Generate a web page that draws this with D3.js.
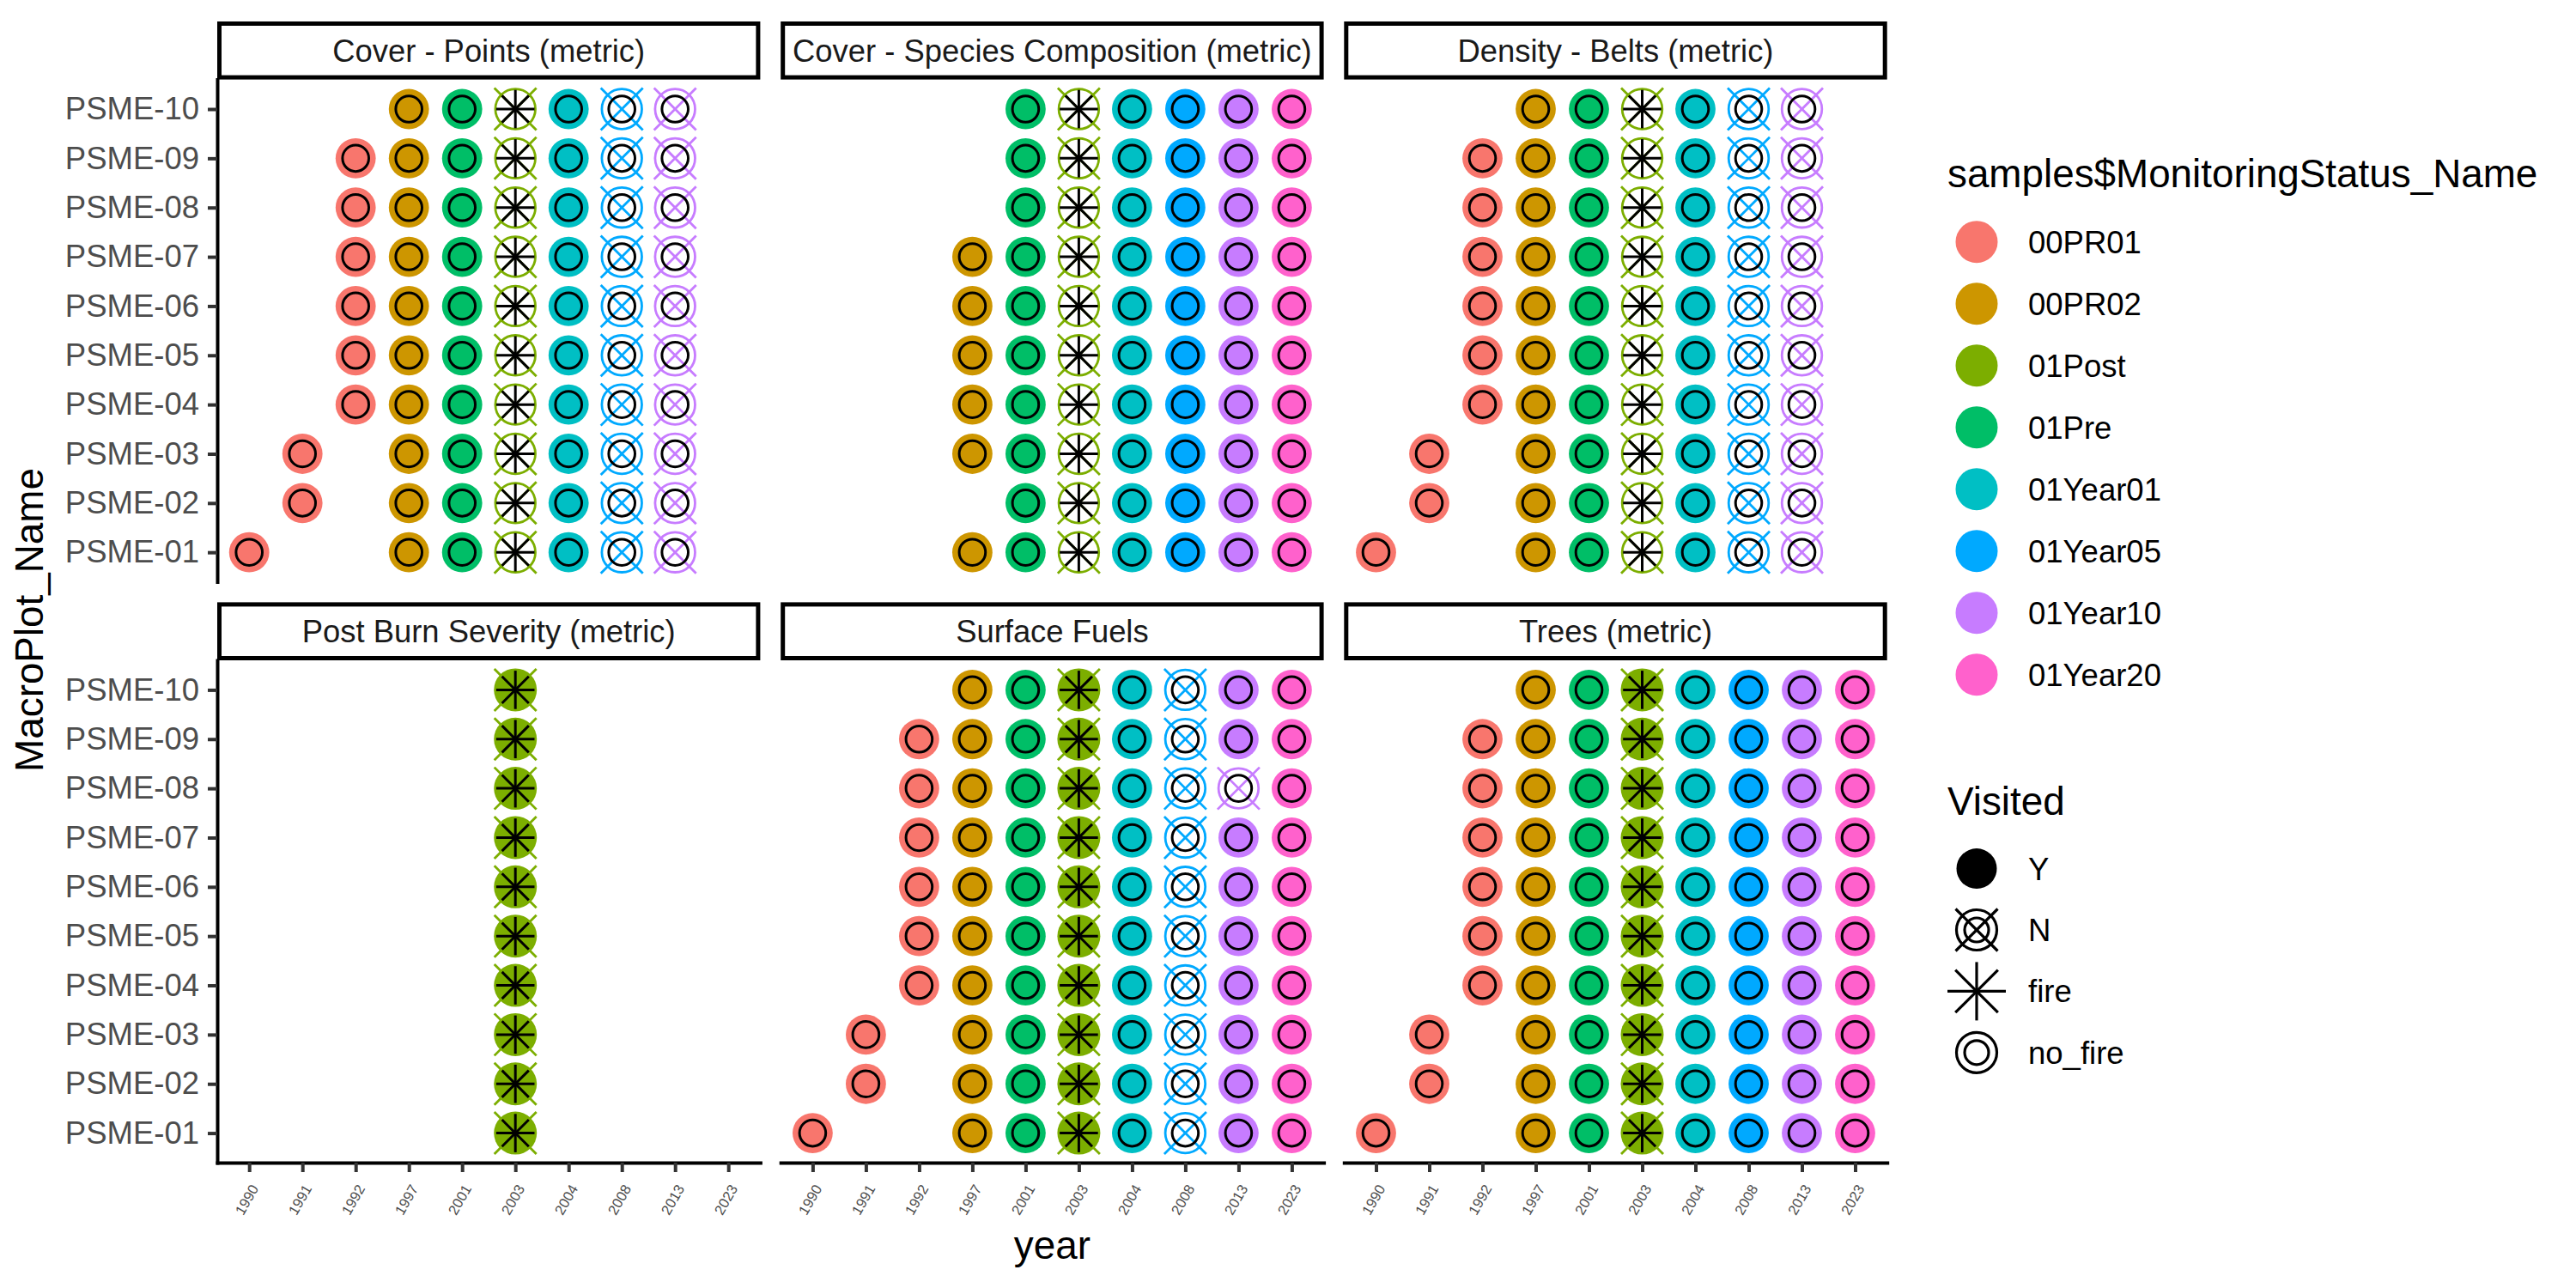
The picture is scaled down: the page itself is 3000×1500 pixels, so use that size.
<!DOCTYPE html>
<html>
<head>
<meta charset="utf-8">
<script src="https://cdn.jsdelivr.net/npm/d3@7"></script>
<style>
  html, body { margin: 0; padding: 0; background: #ffffff; }
  text { font-family: "Liberation Sans", Arial, Helvetica, sans-serif; }
</style>
</head>
<body>
<svg id="chart" width="3000" height="1500"></svg>
<script>
// ---------------- DATA ----------------
const panelNames = [
  "Cover - Points (metric)",
  "Cover - Species Composition (metric)",
  "Density - Belts (metric)",
  "Post Burn Severity (metric)",
  "Surface Fuels",
  "Trees (metric)"
];
const years = ["1990","1991","1992","1997","2001","2003","2004","2008","2013","2023"];
const plots = ["PSME-01","PSME-02","PSME-03","PSME-04","PSME-05","PSME-06","PSME-07","PSME-08","PSME-09","PSME-10"];
const statusNames = ["00PR01","00PR02","01Post","01Pre","01Year01","01Year05","01Year10","01Year20"];
const statusColors = ["#F8766D","#CD9600","#7CAE00","#00BE67","#00BFC4","#00A9FF","#C77CFF","#FF61CC"];
// monitoring status of each year column
const yearStatus = ["00PR01","00PR01","00PR01","00PR02","01Pre","01Post","01Year01","01Year05","01Year10","01Year20"];
// fire flag of each year column
const yearFire = ["no_fire","no_fire","no_fire","no_fire","no_fire","fire","no_fire","no_fire","no_fire","no_fire"];
const visitedLabels = ["Y","N","fire","no_fire"];

// Visit codes per plot (PSME-01 ... PSME-10), one character per year column:
// "-" no sample, "Y" visited, "N" not visited, "B" both Y and N records
const coverPoints = [
  "Y--YYNYNN-","-Y-YYNYNN-","-Y-YYNYNN-","--YYYNYNN-","--YYYNYNN-",
  "--YYYNYNN-","--YYYNYNN-","--YYYNYNN-","--YYYNYNN-","---YYNYNN-"
];
const coverSpecies = [
  "---YYNYYYY","----YNYYYY","---YYNYYYY","---YYNYYYY","---YYNYYYY",
  "---YYNYYYY","---YYNYYYY","----YNYYYY","----YNYYYY","----YNYYYY"
];
const densityBelts = [
  "Y--YYNYNN-","-Y-YYNYNN-","-Y-YYNYNN-","--YYYNYNN-","--YYYNYNN-",
  "--YYYNYNN-","--YYYNYNN-","--YYYNYNN-","--YYYNYNN-","---YYNYNN-"
];
const postBurn = [
  "-----B----","-----B----","-----B----","-----B----","-----B----",
  "-----B----","-----B----","-----B----","-----B----","-----B----"
];
const surfaceFuels = [
  "Y--YYBYNYY","-Y-YYBYNYY","-Y-YYBYNYY","--YYYBYNYY","--YYYBYNYY",
  "--YYYBYNYY","--YYYBYNYY","--YYYBYNNY","--YYYBYNYY","---YYBYNYY"
];
const trees = [
  "Y--YYBYYYY","-Y-YYBYYYY","-Y-YYBYYYY","--YYYBYYYY","--YYYBYYYY",
  "--YYYBYYYY","--YYYBYYYY","--YYYBYYYY","--YYYBYYYY","---YYBYYYY"
];
const panelCodes = [coverPoints, coverSpecies, densityBelts, postBurn, surfaceFuels, trees];

// ---------------- LAYOUT ----------------
const svg = d3.select("#chart");
const colLeft = [253, 909.2, 1565.3];
const panelW = 632.4;
const rowTop = [92.6, 769];
const panelH = 585;
const stripH = 67.6;
const grey30 = "#4D4D4D";

const colour = d3.scaleOrdinal().domain(statusNames).range(statusColors);
const x = d3.scalePoint().domain(years).range([0, panelW]).padding(0.6);
const y = d3.scalePoint().domain(plots.slice().reverse()).range([0, panelH]).padding(0.6);

// build records
const records = [];
panelCodes.forEach((rows, p) => {
  rows.forEach((row, i) => {
    for (let j = 0; j < years.length; j++) {
      const c = row[j];
      if (c === "-") continue;
      records.push({panel: p, plot: plots[i], year: years[j], status: yearStatus[j],
                    visited: c, fire: yearFire[j]});
    }
  });
});

function drawX(g, cx, cy, h, col, w) {
  g.append("line").attr("x1", cx - h).attr("y1", cy - h).attr("x2", cx + h).attr("y2", cy + h)
    .attr("stroke", col).attr("stroke-width", w);
  g.append("line").attr("x1", cx - h).attr("y1", cy + h).attr("x2", cx + h).attr("y2", cy - h)
    .attr("stroke", col).attr("stroke-width", w);
}
function drawPlus(g, cx, cy, h, col, w) {
  g.append("line").attr("x1", cx - h).attr("y1", cy).attr("x2", cx + h).attr("y2", cy)
    .attr("stroke", col).attr("stroke-width", w);
  g.append("line").attr("x1", cx).attr("y1", cy - h).attr("x2", cx).attr("y2", cy + h)
    .attr("stroke", col).attr("stroke-width", w);
}

panelNames.forEach((name, p) => {
  const col = p % 3, row = Math.floor(p / 3);
  const gx = colLeft[col], gy = rowTop[row];

  // strip
  const strip = svg.append("g").attr("transform", `translate(${gx},${gy - stripH})`);
  strip.append("rect").attr("x", 2.5).attr("y", 2.5).attr("width", panelW - 5).attr("height", stripH - 5)
    .attr("fill", "white").attr("stroke", "black").attr("stroke-width", 5);
  strip.append("text").attr("x", panelW / 2).attr("y", stripH / 2 + 13)
    .attr("text-anchor", "middle").attr("font-size", 36.4).attr("fill", "#1A1A1A").text(name);

  const g = svg.append("g").attr("transform", `translate(${gx},${gy})`);

  // points
  const pts = records.filter(d => d.panel === p);
  pts.forEach(d => {
    const cx = x(d.year), cy = y(d.plot);
    const c = colour(d.status);
    const pg = g.append("g");
    if (d.visited === "N" || d.visited === "B") {
      if (d.visited === "N") {
        pg.append("circle").attr("cx", cx).attr("cy", cy).attr("r", 23.3)
          .attr("fill", "none").attr("stroke", c).attr("stroke-width", 2.8);
      }
      drawX(pg, cx, cy, 24.5, c, 2.8);
    }
    if (d.visited === "Y") {
      pg.append("circle").attr("cx", cx).attr("cy", cy).attr("r", 23.4).attr("fill", c);
    }
    if (d.visited === "B") {
      pg.append("circle").attr("cx", cx).attr("cy", cy).attr("r", 25).attr("fill", c);
    }
    // black overlay
    if (d.fire === "fire") {
      drawPlus(pg, cx, cy, 22.3, "black", 3);
      drawX(pg, cx, cy, 15.6, "black", 3);
    } else {
      pg.append("circle").attr("cx", cx).attr("cy", cy).attr("r", 15.3)
        .attr("fill", "none").attr("stroke", "black").attr("stroke-width", 3);
    }
  });

  // y axis (left column)
  if (col === 0) {
    const ya = g.append("g").call(d3.axisLeft(y).tickSize(11).tickSizeOuter(0).tickPadding(10));
    ya.select(".domain").attr("stroke", "black").attr("stroke-width", 4).attr("stroke-linecap", "square");
    ya.selectAll(".tick line").attr("stroke", "#333333").attr("stroke-width", 4);
    ya.selectAll(".tick text").attr("font-size", 36.5).attr("fill", grey30)
      .attr("font-family", "Liberation Sans, Arial, sans-serif");
  }
  // x axis (bottom row)
  if (row === 1) {
    const xa = g.append("g").attr("transform", `translate(0,${panelH})`)
      .call(d3.axisBottom(x).tickSize(11).tickSizeOuter(0));
    xa.select(".domain").attr("stroke", "black").attr("stroke-width", 4).attr("stroke-linecap", "square");
    xa.selectAll(".tick line").attr("stroke", "#333333").attr("stroke-width", 4);
    xa.selectAll(".tick text").attr("font-size", 16.7).attr("fill", grey30)
      .attr("font-family", "Liberation Sans, Arial, sans-serif")
      .attr("x", 0).attr("y", 0).attr("dy", 0)
      .attr("text-anchor", "end")
      .attr("transform", "translate(11,30) rotate(-60)");
  }
});

// axis titles
svg.append("text").attr("transform", "translate(50,722) rotate(-90)")
  .attr("text-anchor", "middle").attr("font-size", 45.8).attr("fill", "black").text("MacroPlot_Name");
svg.append("text").attr("x", (colLeft[0] + colLeft[2] + panelW) / 2).attr("y", 1466)
  .attr("text-anchor", "middle").attr("font-size", 45.8).attr("fill", "black").text("year");

// legend 1: monitoring status
const leg1 = svg.append("g");
leg1.append("text").attr("x", 2268).attr("y", 218).attr("font-size", 45.8).attr("fill", "black")
  .text("samples$MonitoringStatus_Name");
statusNames.forEach((s, i) => {
  const cy = 281.7 + i * 72;
  leg1.append("circle").attr("cx", 2302).attr("cy", cy).attr("r", 24.5).attr("fill", colour(s));
  leg1.append("text").attr("x", 2362).attr("y", cy + 13).attr("font-size", 36.5).attr("fill", "black").text(s);
});

// legend 2: visited
const leg2 = svg.append("g");
leg2.append("text").attr("x", 2268).attr("y", 949).attr("font-size", 45.8).attr("fill", "black").text("Visited");
visitedLabels.forEach((s, i) => {
  const cy = 1011.6 + i * 71.4, cx = 2302;
  const kg = leg2.append("g");
  if (s === "Y") {
    kg.append("circle").attr("cx", cx).attr("cy", cy).attr("r", 23.5).attr("fill", "black");
  } else if (s === "N") {
    kg.append("circle").attr("cx", cx).attr("cy", cy).attr("r", 23.5).attr("fill", "none").attr("stroke", "black").attr("stroke-width", 3.2);
    kg.append("circle").attr("cx", cx).attr("cy", cy).attr("r", 14).attr("fill", "none").attr("stroke", "black").attr("stroke-width", 3.2);
    drawX(kg, cx, cy, 24.5, "black", 3.2);
  } else if (s === "fire") {
    drawPlus(kg, cx, cy, 34, "black", 3.2);
    drawX(kg, cx, cy, 24.8, "black", 3.2);
  } else {
    kg.append("circle").attr("cx", cx).attr("cy", cy).attr("r", 23.5).attr("fill", "none").attr("stroke", "black").attr("stroke-width", 3.2);
    kg.append("circle").attr("cx", cx).attr("cy", cy).attr("r", 14).attr("fill", "none").attr("stroke", "black").attr("stroke-width", 3.2);
  }
  leg2.append("text").attr("x", 2362).attr("y", cy + 13).attr("font-size", 36.5).attr("fill", "black").text(s);
});
</script>
</body>
</html>
